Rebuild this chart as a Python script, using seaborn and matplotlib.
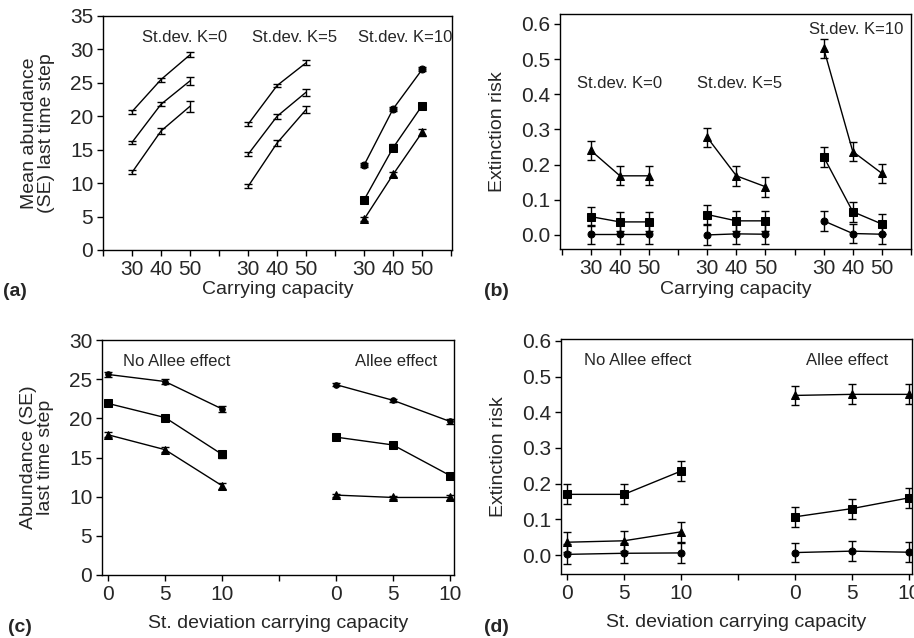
import numpy as np
import pandas as pd
import seaborn as sns
import matplotlib
matplotlib.use("Agg")
import matplotlib.pyplot as plt

# ---- data ----
cap_labels = [30, 40, 50]
k_groups = ["St.dev. K=0", "St.dev. K=5", "St.dev. K=10"]

# (a) mean abundance, one row per St.dev. K group
a_circle = [[20.7, 25.5, 29.2], [18.8, 24.6, 28.0], [12.7, 21.1, 27.0]]
a_circle_se = [[0.3, 0.3, 0.4], [0.3, 0.2, 0.4], [0.3, 0.3, 0.3]]
a_square = [[16.1, 21.8, 25.3], [14.3, 20.0, 23.6], [7.5, 15.3, 21.6]]
a_square_se = [[0.2, 0.3, 0.6], [0.3, 0.4, 0.5], [0.4, 0.5, 0.4]]
a_triangle = [[11.6, 17.8, 21.5], [9.5, 16.0, 21.0], [4.6, 11.3, 17.6]]
a_triangle_se = [[0.3, 0.5, 0.8], [0.3, 0.4, 0.5], [0.3, 0.4, 0.5]]

# (b) extinction risk
b_circle = [[0.002, 0.002, 0.002], [0.0, 0.003, 0.002], [0.040, 0.004, 0.002]]
b_square = [[0.052, 0.037, 0.037], [0.058, 0.040, 0.040], [0.222, 0.066, 0.031]]
b_triangle = [[0.240, 0.168, 0.168], [0.277, 0.168, 0.137], [0.530, 0.237, 0.175]]
b_se = [[0.027, 0.027, 0.027], [0.028, 0.028, 0.028], [0.028, 0.028, 0.028]]

sd_labels = [0, 5, 10]
allee_groups = ["No Allee effect", "Allee effect"]

# (c) abundance by st. deviation
c_circle = [[25.6, 24.7, 21.2], [24.3, 22.3, 19.6]]
c_square = [[21.9, 20.1, 15.4], [17.6, 16.6, 12.7]]
c_triangle = [[17.9, 16.0, 11.4], [10.2, 9.9, 9.9]]
c_se = [[0.3, 0.3, 0.4], [0.2, 0.2, 0.3]]

# (d) extinction risk by st. deviation
d_circle = [[0.002, 0.005, 0.006], [0.007, 0.011, 0.008]]
d_square = [[0.170, 0.170, 0.235], [0.107, 0.130, 0.160]]
d_triangle = [[0.036, 0.040, 0.065], [0.447, 0.450, 0.450]]
d_se = [[0.028, 0.028, 0.028], [0.027, 0.028, 0.028]]

sns.set_style("ticks")
plt.rcParams["font.family"] = ["Liberation Sans", "DejaVu Sans"]

W, H = 914, 638
fig = plt.figure(figsize=(W / 100, H / 100), dpi=100)


def box(l, t, r, b):
    return [l / W, 1 - b / H, (r - l) / W, (b - t) / H]


def draw(ax, xs, ys, se, marker, ms):
    df = pd.DataFrame({"x": xs, "y": ys})
    sns.lineplot(data=df, x="x", y="y", ax=ax, color="black", lw=1,
                 marker=marker if marker else None, markersize=ms,
                 markeredgecolor="black", markerfacecolor="black")
    ax.errorbar(xs, ys, yerr=se, fmt="none", ecolor="black",
                elinewidth=1, capsize=3, capthick=1)


def style(ax):
    for s in ax.spines.values():
        s.set_linewidth(1)
        s.set_color("black")
    ax.tick_params(axis="both", which="both", direction="out", length=4,
                   width=1, labelsize=15, color="black")
    ax.tick_params(axis="x", which="major", pad=3)
    ax.tick_params(axis="y", which="major", pad=3)


mk = {"o": 5, "s": 6, "^": 6}

# ---- (a) ----
ax = fig.add_axes(box(103, 16, 452, 250))
for g in range(3):
    xs = [g * 4 + i for i in range(3)]
    show = g == 2
    draw(ax, xs, a_circle[g], a_circle_se[g], "o" if show else None, mk["o"])
    draw(ax, xs, a_square[g], a_square_se[g], "s" if show else None, mk["s"])
    draw(ax, xs, a_triangle[g], a_triangle_se[g], "^" if show else None, mk["^"])
ax.set_xlim(-1, 11.03)
ax.set_ylim(0, 35)
ax.set_yticks(range(0, 36, 5))
ax.set_xticks([g * 4 + i for g in range(3) for i in range(3)],
              [str(c) for _ in range(3) for c in cap_labels])
ax.set_xticks([-1, 3, 7, 11], minor=True)
ax.text(1.8, 31.8, k_groups[0], ha="center", va="center", fontsize=12)
ax.text(5.6, 31.8, k_groups[1], ha="center", va="center", fontsize=12)
ax.text(9.4, 31.8, k_groups[2], ha="center", va="center", fontsize=12)
ax.set_xlabel("Carrying capacity", fontsize=14, labelpad=2)
ax.set_ylabel("Mean abundance\n(SE) last time step", fontsize=14,
              linespacing=1.0, labelpad=11)
style(ax)
fig.text(3 / W, 1 - 291 / H, "(a)", fontsize=14, weight="bold", va="center")

# ---- (b) ----
ax = fig.add_axes(box(560, 14, 911, 249))
for g in range(3):
    xs = [g * 4 + i for i in range(3)]
    draw(ax, xs, b_circle[g], b_se[g], "o", mk["o"])
    draw(ax, xs, b_square[g], b_se[g], "s", mk["s"])
    draw(ax, xs, b_triangle[g], b_se[g], "^", mk["^"])
ax.set_xlim(-1.06, 10.96)
ax.set_ylim(-0.04, 0.628)
ax.set_yticks(np.arange(0, 0.61, 0.1), [f"{v:.1f}" for v in np.arange(0, 0.61, 0.1)])
ax.set_xticks([g * 4 + i for g in range(3) for i in range(3)],
              [str(c) for _ in range(3) for c in cap_labels])
ax.set_xticks([-1, 3, 7, 11], minor=True)
ax.text(1.0, 0.43, k_groups[0], ha="center", va="center", fontsize=12)
ax.text(5.1, 0.43, k_groups[1], ha="center", va="center", fontsize=12)
ax.text(9.1, 0.585, k_groups[2], ha="center", va="center", fontsize=12)
ax.set_xlabel("Carrying capacity", fontsize=14, labelpad=2)
ax.set_ylabel("Extinction risk", fontsize=14, labelpad=11)
style(ax)
fig.text(484 / W, 1 - 291 / H, "(b)", fontsize=14, weight="bold", va="center")

# ---- (c) ----
ax = fig.add_axes(box(102, 340, 454, 575))
for g in range(2):
    xs = [g * 20 + s for s in sd_labels]
    draw(ax, xs, c_circle[g], c_se[g], "o", mk["o"] - 1)
    draw(ax, xs, c_square[g], c_se[g], "s", mk["s"])
    draw(ax, xs, c_triangle[g], c_se[g], "^", mk["^"])
ax.set_xlim(-0.53, 30.35)
ax.set_ylim(0, 30)
ax.set_yticks(range(0, 31, 5))
ax.set_xticks([g * 20 + s for g in range(2) for s in sd_labels],
              [str(s) for _ in range(2) for s in sd_labels])
ax.set_xticks([15], minor=True)
ax.text(6, 27.3, allee_groups[0], ha="center", va="center", fontsize=12)
ax.text(25.3, 27.3, allee_groups[1], ha="center", va="center", fontsize=12)
ax.set_xlabel("St. deviation carrying capacity", fontsize=14, labelpad=8)
ax.set_ylabel("Abundance (SE)\nlast time step", fontsize=14,
              linespacing=1.0, labelpad=11)
style(ax)
fig.text(8 / W, 1 - 627 / H, "(c)", fontsize=14, weight="bold", va="center")

# ---- (d) ----
ax = fig.add_axes(box(561, 339, 912, 574))
for g in range(2):
    xs = [g * 20 + s for s in sd_labels]
    draw(ax, xs, d_circle[g], d_se[g], "o", mk["o"])
    draw(ax, xs, d_square[g], d_se[g], "s", mk["s"])
    draw(ax, xs, d_triangle[g], d_se[g], "^", mk["^"])
ax.set_xlim(-0.53, 30.3)
ax.set_ylim(-0.053, 0.605)
ax.set_yticks(np.arange(0, 0.61, 0.1), [f"{v:.1f}" for v in np.arange(0, 0.61, 0.1)])
ax.set_xticks([g * 20 + s for g in range(2) for s in sd_labels],
              [str(s) for _ in range(2) for s in sd_labels])
ax.set_xticks([15], minor=True)
ax.text(6.2, 0.545, allee_groups[0], ha="center", va="center", fontsize=12)
ax.text(24.6, 0.545, allee_groups[1], ha="center", va="center", fontsize=12)
ax.set_xlabel("St. deviation carrying capacity", fontsize=14, labelpad=8)
ax.set_ylabel("Extinction risk", fontsize=14, labelpad=11)
style(ax)
fig.text(484 / W, 1 - 627 / H, "(d)", fontsize=14, weight="bold", va="center")

fig.savefig("out.png", dpi=100)
